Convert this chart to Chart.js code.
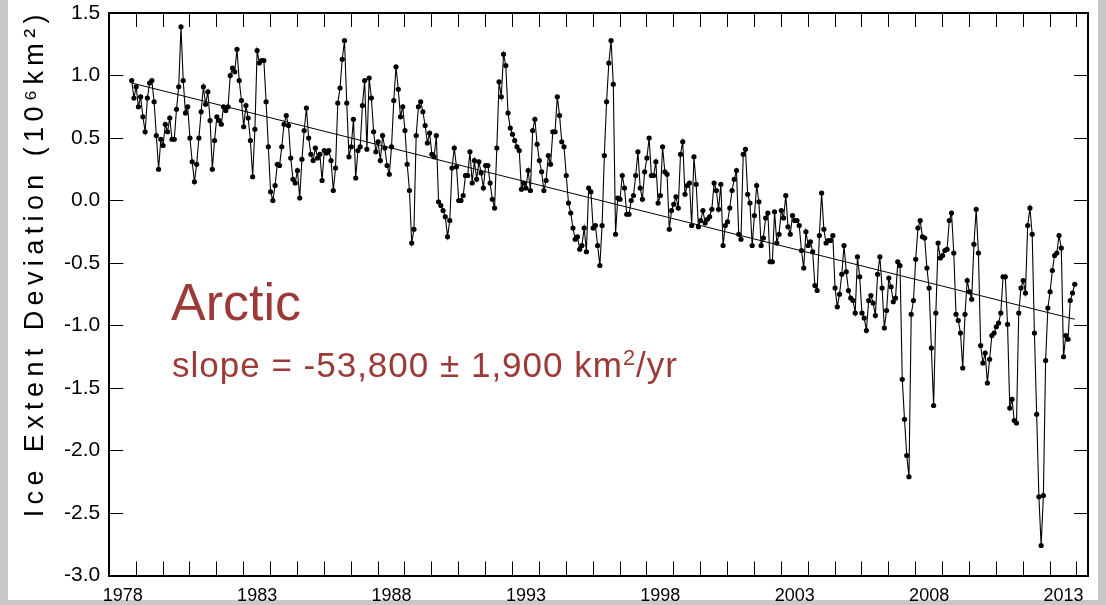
<!DOCTYPE html>
<html><head><meta charset="utf-8">
<script src="https://cdn.jsdelivr.net/npm/chart.js@4/dist/chart.umd.min.js"></script>
<style>
html,body{margin:0;padding:0;background:#c8c8c8;width:1106px;height:605px;overflow:hidden;}
#panel{position:absolute;left:8px;top:0;width:1090px;height:600px;background:#fff;}
#wrap{position:absolute;left:0;top:0;width:1106px;height:605px;}
.note{position:absolute;color:#9b3a36;font-family:"Liberation Sans",Arial,sans-serif;white-space:nowrap;line-height:1;}
.note sup{font-size:0.62em;vertical-align:0.55em;line-height:0;}
</style></head><body>
<div id="panel"></div>
<div id="wrap"><canvas id="c" width="1106" height="605"></canvas></div>
<div class="note" style="left:171px;top:276px;font-size:52px;">Arctic</div>
<div class="note" style="left:172px;top:347px;font-size:35px;letter-spacing:1px;">slope = -53,800 ± 1,900 km<sup>2</sup>/yr</div>
<script>
// ---- data ----
const startYear = 1978;
const startMonth = 11; // first monthly value: November 1978
const iceExtentDeviation = [
 0.96, 0.82, 0.91, 0.75, 0.83, 0.67, 0.55, 0.82, 0.94, 0.96,
 0.79, 0.52, 0.25, 0.49, 0.44, 0.61, 0.55, 0.66, 0.49, 0.49,
 0.73, 0.91, 1.39, 0.96, 0.70, 0.75, 0.50, 0.31, 0.15, 0.29,
 0.50, 0.71, 0.91, 0.77, 0.87, 0.64, 0.25, 0.48, 0.67, 0.64,
 0.61, 0.75, 0.72, 0.75, 1.00, 1.06, 1.03,
 1.21, 0.96, 0.80, 0.59, 0.76, 0.66, 0.48, 0.19, 0.57, 1.20,
 1.10, 1.12, 1.12, 0.79, 0.43, 0.07, 0.00, 0.12, 0.29, 0.28,
 0.43, 0.61, 0.68, 0.60, 0.34, 0.17, 0.14, 0.24, 0.02, 0.33,
 0.56, 0.74, 0.50, 0.37, 0.32, 0.42, 0.34, 0.37, 0.16, 0.40,
 0.38, 0.40, 0.32, 0.08, 0.26, 0.78, 0.90, 1.13, 1.28,
 0.78, 0.35, 0.43, 0.65, 0.18, 0.40, 0.43, 0.76, 0.96, 0.41,
 0.98, 0.82, 0.55, 0.39, 0.47, 0.32, 0.52, 0.42, 0.28, 0.21,
 0.43, 0.80, 1.07, 0.89, 0.67, 0.75, 0.56, 0.29, 0.08, -0.34,
 -0.23, 0.52, 0.75, 0.79, 0.71, 0.60, 0.46, 0.54, 0.37, 0.35,
 0.52, -0.01, -0.04, -0.08, -0.13, -0.29, -0.16, 0.26, 0.42, 0.27,
 0.00, 0.00, 0.04, 0.20, 0.20, 0.39, 0.14, 0.32,
 0.17, 0.31, 0.22, 0.10, 0.28, 0.28, 0.14, 0.01, -0.06, 0.42,
 0.95, 0.83, 1.17, 1.08, 0.70, 0.58, 0.53, 0.48, 0.43, 0.40,
 0.09, 0.14, 0.10, 0.24, 0.08, 0.56, 0.65, 0.45, 0.32, 0.23,
 0.08, 0.16, 0.36, 0.29, 0.55, 0.55, 0.83, 0.68, 0.47, 0.43,
 0.20, -0.02, -0.10, -0.22, -0.31, -0.29, -0.39, -0.36, -0.22, -0.41,
 0.10, 0.07, -0.22,
 -0.20, -0.36, -0.52, -0.20, 0.36, 0.79, 1.10, 1.28, 0.93, -0.27,
 0.02, 0.01, 0.20, 0.10, -0.11, -0.11, 0.00, 0.04, 0.20, 0.39,
 0.10, 0.01, 0.23, 0.34, 0.50, 0.20, 0.20, 0.31, -0.02, 0.04,
 0.43, 0.23, 0.21, -0.23, -0.08, -0.03, 0.03, -0.06, 0.37, 0.47,
 0.05, 0.12, 0.14, -0.20, 0.35, 0.13, -0.21, -0.16, -0.08, -0.18,
 -0.15, -0.13, -0.07, 0.14,
 0.08, -0.07, 0.13, -0.36, -0.20, -0.17, -0.06, 0.08, 0.17, 0.24,
 -0.27, -0.31, 0.37, 0.41, 0.05, -0.02, -0.36, -0.12, 0.12, -0.01,
 -0.36, -0.30, -0.14, -0.10, -0.49, -0.49, -0.09, -0.34, -0.27, -0.08,
 -0.14, 0.04, -0.21, -0.27, -0.12, -0.16, -0.16, -0.20, -0.40, -0.54,
 -0.25, -0.36, -0.33, -0.41, -0.68, -0.72, -0.28, 0.06, -0.23, -0.34,
 -0.32, -0.32, -0.28, -0.70,
 -0.85, -0.75, -0.59, -0.36, -0.57, -0.72, -0.78, -0.80, -0.90, -0.45,
 -0.61, -0.90, -0.94, -1.04, -0.80, -0.76, -0.82, -0.92, -0.59, -0.45,
 -0.70, -1.02, -0.88, -0.62, -0.69, -0.81, -0.78, -0.49, -0.52, -1.43,
 -1.75, -2.04, -2.21, -0.91, -0.80, -0.47, -0.22, -0.16, -0.29, -0.30,
 -0.54, -0.70, -1.18, -1.64, -0.90, -0.34, -0.46, -0.44, -0.40, -0.39,
 -0.16, -0.10, -0.42, -0.91,
 -0.96, -1.06, -1.34, -0.91, -0.64, -0.73, -0.79, -0.35, -0.07, -0.42,
 -1.16, -1.30, -1.22, -1.46, -1.27, -1.08, -1.06, -1.01, -0.98, -0.90,
 -0.61, -0.61, -0.99, -1.66, -1.59, -1.76, -1.78, -0.90, -0.70, -0.64,
 -0.74, -0.20, -0.06, -0.27, -1.06, -1.71, -2.37, -2.76, -2.36, -1.28,
 -0.86, -0.73, -0.56, -0.44, -0.42, -0.28, -0.38, -1.25, -1.08, -1.11,
 -0.80, -0.74, -0.67
];
const trendEndpoints = [0.94, -0.95];           // linear fit at first and last month
const tickLabelYears = [1978, 1983, 1988, 1993, 1998, 2003, 2008, 2013];
const yTickValues = [-3.0, -2.5, -2.0, -1.5, -1.0, -0.5, 0.0, 0.5, 1.0, 1.5];
const axisTitle = 'Ice Extent Deviation (10\u2076km\u00B2)';

// ---- build ----
const monthX = i => startYear + (startMonth - 1 + i) / 12;
const seriesPoints = iceExtentDeviation.map((v, i) => ({ x: monthX(i), y: v }));
const trendPoints = [
  { x: monthX(0), y: trendEndpoints[0] },
  { x: monthX(iceExtentDeviation.length - 1), y: trendEndpoints[1] }
];
const X_MIN = 1978, X_MAX = 2014.41;
const yearTicks = () => { const t = []; for (let y = X_MIN; y <= Math.floor(X_MAX); y++) t.push({ value: y }); return t; };
const tickColor = c => (c.tick && Number.isInteger(c.tick.value)) ? '#000' : 'rgba(0,0,0,0)';
const gridCommon = { drawOnChartArea: false, drawTicks: true, tickLength: -14, lineWidth: 1 };
const borderCommon = { display: true, color: '#000', width: 2 };
const noPad = s => { s.paddingTop = 0; s.paddingBottom = 0; s.paddingLeft = 0; s.paddingRight = 0; };

const spacedTitle = {
  id: 'spacedTitle',
  afterUpdate(chart) {
    const s = chart.scales.y;
    if (s && !s.__spaced) {
      const orig = s.drawTitle;
      s.drawTitle = function (...a) {
        this.ctx.save(); this.ctx.letterSpacing = '5.4px'; this.ctx.translate(0, -4);
        orig.apply(this, a); this.ctx.restore();
      };
      s.__spaced = true;
    }
  }
};

new Chart(document.getElementById('c'), {
  type: 'line',
  data: {
    datasets: [
      { data: seriesPoints, borderColor: '#000', borderWidth: 1.1, pointRadius: 2.6, pointBackgroundColor: '#000',
        pointBorderWidth: 0, tension: 0, xAxisID: 'x', yAxisID: 'y' },
      { data: trendPoints, borderColor: '#000', borderWidth: 1, pointRadius: 0, tension: 0, xAxisID: 'x', yAxisID: 'y' }
    ]
  },
  options: {
    responsive: false, animation: false, devicePixelRatio: 1,
    layout: { padding: 0 },
    plugins: { legend: { display: false }, tooltip: { enabled: false } },
    scales: {
      x: {
        type: 'linear', position: 'bottom', min: X_MIN, max: X_MAX,
        afterBuildTicks: s => {
          const t = yearTicks().concat(tickLabelYears.map(y => ({ value: y + 0.5 })));
          t.sort((a, b) => a.value - b.value); s.ticks = t;
        },
        afterFit: s => { s.height = 29.5; noPad(s); },
        grid: Object.assign({ color: tickColor }, gridCommon),
        border: borderCommon,
        ticks: {
          autoSkip: false, maxRotation: 0, minRotation: 0, padding: 23.5, color: '#000',
          font: { family: '"Liberation Sans", Arial, sans-serif', size: 18 },
          callback: v => (!Number.isInteger(v) && tickLabelYears.includes(Math.floor(v))) ? String(Math.floor(v)) : ''
        }
      },
      xTop: {
        type: 'linear', position: 'top', min: X_MIN, max: X_MAX,
        afterBuildTicks: s => { s.ticks = yearTicks(); },
        afterFit: s => { s.height = 13; noPad(s); },
        grid: Object.assign({ color: '#000' }, gridCommon),
        border: borderCommon,
        ticks: { display: false }
      },
      y: {
        type: 'linear', position: 'left', min: -3, max: 1.5,
        afterBuildTicks: s => { s.ticks = yTickValues.map(v => ({ value: v })); },
        afterFit: s => { s.width = 109.3; noPad(s); },
        grid: Object.assign({ color: '#000' }, gridCommon),
        border: borderCommon,
        ticks: { padding: 23, color: '#000', font: { family: '"Liberation Sans", Arial, sans-serif', size: 21 },
                 callback: v => v.toFixed(1) },
        title: { display: true, text: axisTitle, align: 'end', color: '#000',
                 font: { family: '"Liberation Sans", Arial, sans-serif', size: 27 }, padding: { top: 19, bottom: 0 } }
      },
      yRight: {
        type: 'linear', position: 'right', min: -3, max: 1.5,
        afterBuildTicks: s => { s.ticks = yTickValues.map(v => ({ value: v })); },
        afterFit: s => { s.width = 18; noPad(s); },
        grid: Object.assign({ color: '#000' }, gridCommon),
        border: borderCommon,
        ticks: { display: false }
      }
    }
  },
  plugins: [spacedTitle]
});
</script>
</body></html>
